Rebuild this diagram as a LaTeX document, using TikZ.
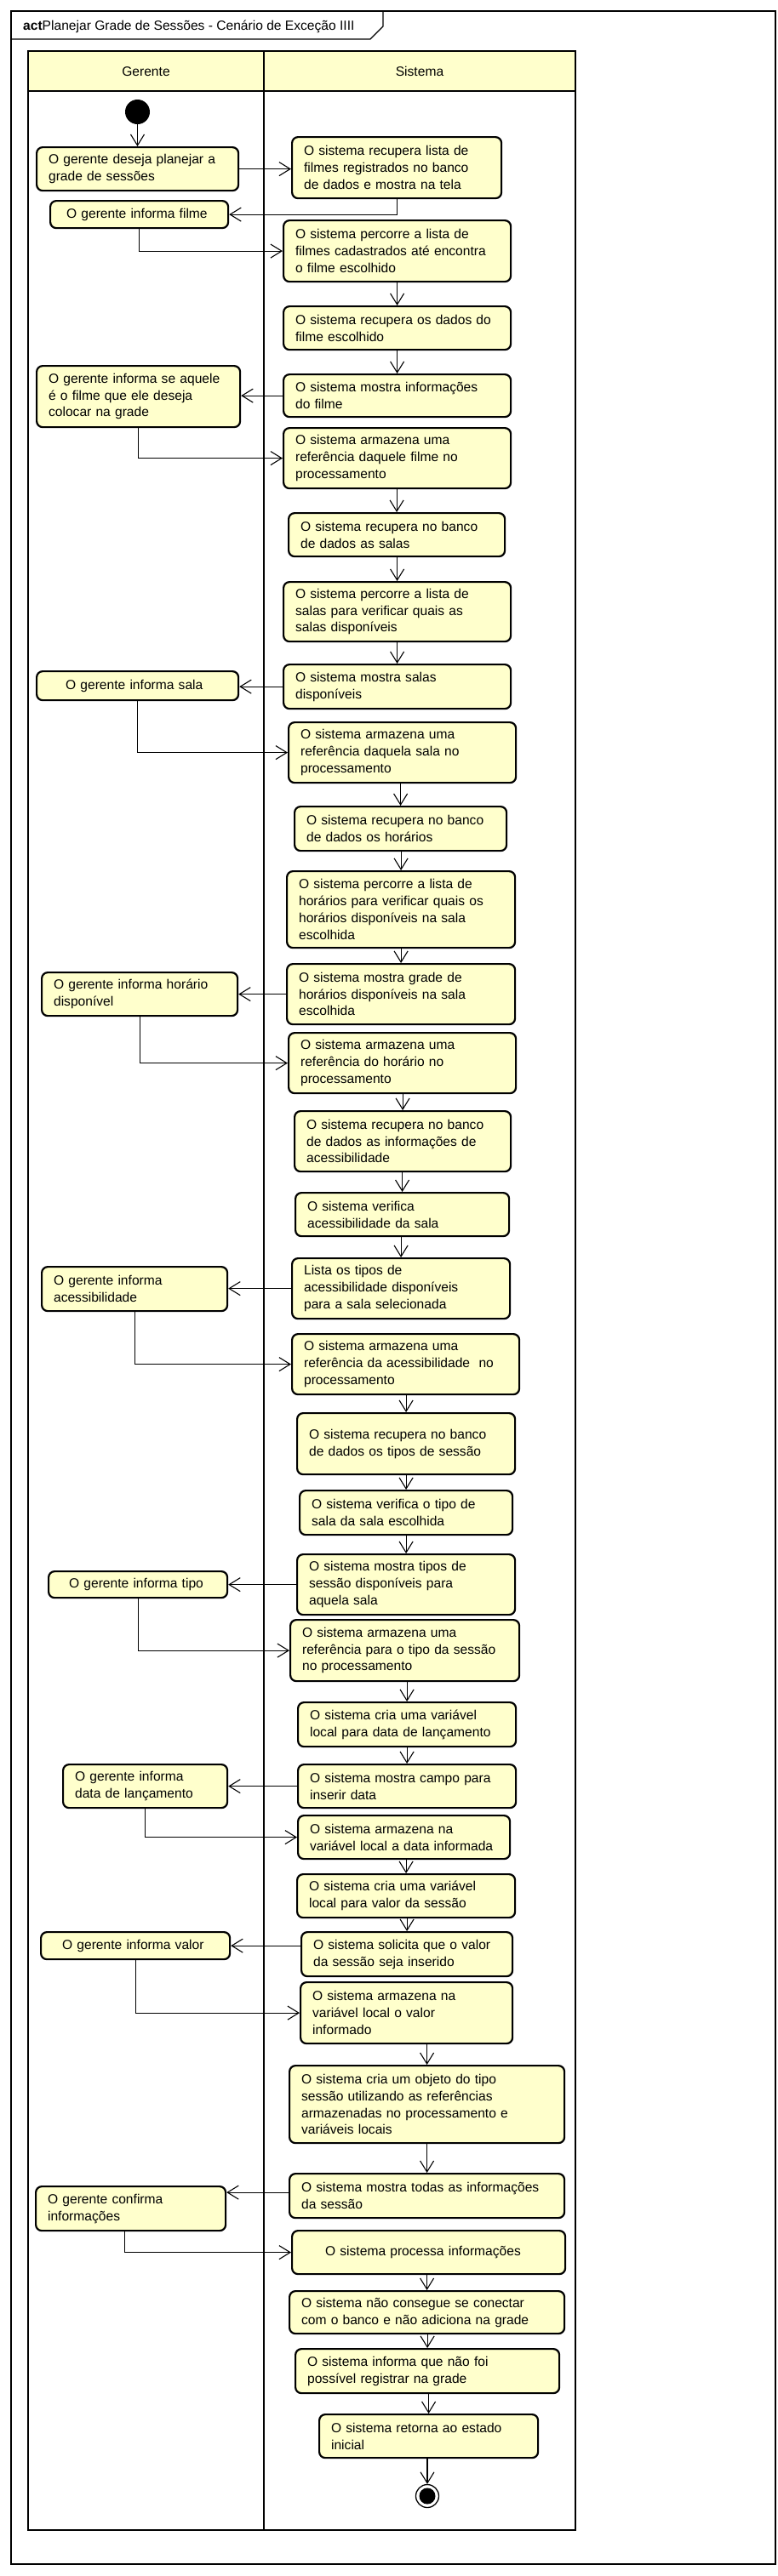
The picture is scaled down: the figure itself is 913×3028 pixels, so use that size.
\documentclass[tikz,border=0pt]{standalone}
\usepackage{fontspec}
\setmainfont{Liberation Sans}
\usetikzlibrary{arrows.meta}
\definecolor{actfill}{RGB}{255,255,204}
\tikzset{
  actbox/.style={draw, line width=2.2pt, fill=actfill, rounded corners=7pt, align=left,
    inner ysep=0pt, font=\fontsize{15.6}{19.8}\selectfont},
  flow/.style={line width=1.1pt, -{Straight Barb[length=13pt,width=16pt]}},
  lane/.style={line width=2pt},
  frameline/.style={line width=1.2pt},
  lbl/.style={font=\fontsize{15.6}{19.8}\selectfont, inner sep=0pt},
}
\newcommand{\actbox}[7][14]{%
  \pgfmathsetmacro{\actW}{#5-#3}%
  \pgfmathsetmacro{\actH}{#6-#4}%
  \pgfmathsetmacro{\actT}{#5-#3-2*#1}%
  \node[actbox, anchor=north west, minimum width=\actW pt, minimum height=\actH pt,
    text width=\actT pt, inner xsep=#1pt] (#2) at (#3,#4) {#7};}
\begin{document}
\begin{tikzpicture}[x=1pt,y=-1pt]
\useasboundingbox (0,0) rectangle (913,3028);
% frame
\draw[frameline] (13,13) rectangle (911,3014);
\draw[frameline] (13,46) -- (435,46) -- (450,31) -- (450,13);
\node[lbl, anchor=west] (title) at (27,31) {\textbf{act}Planejar Grade de Sessões - Cenário de Exceção IIII};
% swimlanes
\fill[actfill] (33,60) rectangle (676,107);
\draw[lane] (33,60) rectangle (676,2974);
\draw[lane] (33,107) -- (676,107);
\draw[lane] (310,60) -- (310,2974);
\node[lbl] (hG) at (171.5,84) {Gerente};
\node[lbl] (hS) at (493,84) {Sistema};
% nodes
\node[circle, fill=black, minimum size=29pt, inner sep=0pt] (start) at (161.5,131.5) {};
\actbox{N1}{42}{172}{279}{223}{O gerente deseja planejar a\\grade de sessões}
\actbox{S1}{342}{160}{588}{232}{O sistema recupera lista de\\filmes registrados no banco\\de dados e mostra na tela}
\actbox[19]{N2}{58}{235}{267}{267}{O gerente informa filme}
\actbox{S2}{332}{258}{599}{330}{O sistema percorre a lista de\\filmes cadastrados até encontra\\o filme escolhido}
\actbox{S3}{332}{359}{599}{410}{O sistema recupera os dados do\\filme escolhido}
\actbox{S4}{332}{439}{599}{489}{O sistema mostra informações\\do filme}
\actbox{N3}{42}{429}{281}{501}{O gerente informa se aquele\\é o filme que ele deseja\\colocar na grade}
\actbox{S5}{332}{502}{599}{573}{O sistema armazena uma\\referência daquele filme no\\processamento}
\actbox{S6}{338}{602}{592}{653}{O sistema recupera no banco\\de dados as salas}
\actbox{S7}{332}{683}{599}{753}{O sistema percorre a lista de\\salas para verificar quais as\\salas disponíveis}
\actbox{S8}{332}{780}{599}{832}{O sistema mostra salas\\disponíveis}
\actbox[34]{N4}{42}{788}{279}{822}{O gerente informa sala}
\actbox{S9}{338}{848}{605}{919}{O sistema armazena uma\\referência daquela sala no\\processamento}
\actbox{S10}{345}{947}{594}{999}{O sistema recupera no banco\\de dados os horários}
\actbox{S11}{336}{1023}{604}{1113}{O sistema percorre a lista de\\horários para verificar quais os\\horários disponíveis na sala\\escolhida}
\actbox{S12}{336}{1132}{604}{1203}{O sistema mostra grade de\\horários disponíveis na sala\\escolhida}
\actbox{N5}{48}{1142}{278}{1193}{O gerente informa horário\\disponível}
\actbox{S13}{338}{1213}{605}{1284}{O sistema armazena uma\\referência do horário no\\processamento}
\actbox{S14}{345}{1305}{599}{1376}{O sistema recupera no banco\\de dados as informações de\\acessibilidade}
\actbox{S15}{346}{1401}{597}{1452}{O sistema verifica\\acessibilidade da sala}
\actbox{S16}{342}{1478}{598}{1549}{Lista os tipos de\\acessibilidade disponíveis\\para a sala selecionada}
\actbox{N6}{48}{1488}{266}{1540}{O gerente informa\\acessibilidade}
\actbox{S17}{342}{1567}{609}{1638}{O sistema armazena uma\\referência da acessibilidade~ no\\processamento}
\actbox{S18}{348}{1660}{604}{1732}{O sistema recupera no banco\\de dados os tipos de sessão}
\actbox{S19}{351}{1751}{601}{1803}{O sistema verifica o tipo de\\sala da sala escolhida}
\actbox{S20}{348}{1826}{604}{1897}{O sistema mostra tipos de\\sessão disponíveis para\\aquela sala}
\actbox[24]{N7}{56}{1846}{266}{1877}{O gerente informa tipo}
\actbox{S21}{340}{1903}{609}{1975}{O sistema armazena uma\\referência para o tipo da sessão\\no processamento}
\actbox{S22}{349}{2000}{605}{2052}{O sistema cria uma variável\\local para data de lançamento}
\actbox{S23}{349}{2073}{605}{2124}{O sistema mostra campo para\\inserir data}
\actbox{N8}{73}{2073}{266}{2124}{O gerente informa\\data de lançamento}
\actbox{S24}{349}{2133}{598}{2184}{O sistema armazena na\\variável local a data informada}
\actbox{S25}{348}{2202}{604}{2253}{O sistema cria uma variável\\local para valor da sessão}
\actbox{S26}{353}{2270}{601}{2322}{O sistema solicita que o valor\\da sessão seja inserido}
\actbox[25]{N9}{47}{2270}{269}{2302}{O gerente informa valor}
\actbox{S27}{352}{2329}{601}{2401}{O sistema armazena na\\variável local o valor\\informado}
\actbox{S28}{339}{2427}{662}{2518}{O sistema cria um objeto do tipo\\sessão utilizando as referências\\armazenadas no processamento e\\variáveis locais}
\actbox{S29}{339}{2554}{662}{2606}{O sistema mostra todas as informações\\da sessão}
\actbox{N10}{41}{2569}{264}{2621}{O gerente confirma\\informações}
\actbox[39]{S30}{342}{2621}{663}{2672}{O sistema processa informações}
\actbox{S31}{339}{2692}{662}{2742}{O sistema não consegue se conectar\\com o banco e não adiciona na grade}
\actbox{S32}{346}{2760}{656}{2812}{O sistema informa que não foi\\possível registrar na grade}
\actbox{S33}{374}{2837}{631}{2888}{O sistema retorna ao estado\\inicial}
\node[circle, draw, line width=1.3pt, minimum size=27pt, inner sep=0pt] (final) at (502,2934) {};
\node[circle, fill=black, minimum size=19pt, inner sep=0pt] (finalin) at (final) {};
% connectors
\draw[flow] (start.south) -- (start.south |- N1.north);
\draw[flow] (N1.east) -- (N1.east -| S1.west);
\draw[flow] (S1.south) |- (N2.east);
\draw[flow] (N2.south) |- (S2.west);
\draw[flow] (S4.west) -- (S4.west -| N3.east);
\draw[flow] (N3.south) |- (S5.west);
\draw[flow] (S8.west) -- (S8.west -| N4.east);
\draw[flow] (N4.south) |- (S9.west);
\draw[flow] (S12.west) -- (S12.west -| N5.east);
\draw[flow] (N5.south) |- (S13.west);
\draw[flow] (S16.west) -- (S16.west -| N6.east);
\draw[flow] (N6.south) |- (S17.west);
\draw[flow] (S20.west) -- (S20.west -| N7.east);
\draw[flow] (N7.south) |- (S21.west);
\draw[flow] (S23.west) -- (S23.west -| N8.east);
\draw[flow] (N8.south) |- (S24.west);
\draw[flow] (S26.west |- N9.east) -- (N9.east);
\draw[flow] (N9.south) |- (S27.west);
\draw[flow] ([yshift=4pt]S29.west) -- ([yshift=4pt]S29.west -| N10.east);
\draw[flow] ([xshift=-7pt]N10.south) |- (S30.west);
\foreach \a/\b in {S2/S3,S3/S4,S5/S6,S6/S7,S7/S8,S9/S10,S10/S11,S11/S12,S13/S14,S14/S15,S15/S16,S17/S18,S18/S19,S19/S20,S21/S22,S22/S23,S24/S25,S25/S26,S27/S28,S28/S29,S30/S31,S31/S32,S32/S33,S33/final}
  \draw[flow] (\a.south -| \b.north) -- (\b.north);
\end{tikzpicture}
\end{document}
